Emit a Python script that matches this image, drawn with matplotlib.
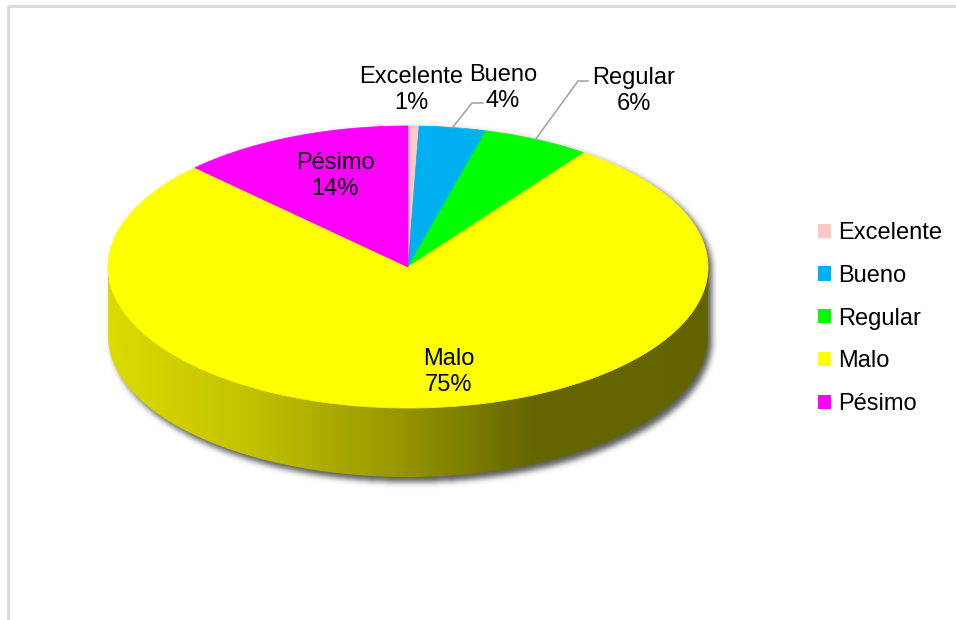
import numpy as np
import matplotlib
matplotlib.use("Agg")
import matplotlib.pyplot as plt
from matplotlib.patches import Polygon, Patch, Rectangle

# Datos
categorias = ["Excelente", "Bueno", "Regular", "Malo", "Pésimo"]
porcentajes = [0.7, 4.2, 6.3, 75.0, 13.8]
colores = ["#ffc7c7", "#00b0f0", "#00ff00", "#ffff00", "#ff00ff"]

# Geometria del pastel 3D (en pixeles)
cx, cy, rx, ry, prof = 408, 267, 300, 141, 69
perspectiva = 4.5  # grados de compresion angular hacia el fondo

# Posiciones de las etiquetas (centro del bloque de texto)
pos_etiquetas = [(411, 90), (503, 88), (634, 91), (449, 372), (335, 176)]
# codos de las lineas guia (solo Bueno y Regular)
codos = {1: [(472, 103), (483, 103)], 2: [(578, 81), (588, 81)]}

plt.rcParams["font.family"] = ["Liberation Sans", "DejaVu Sans"]
FS = 17


def punto(t, dy=0.0):
    # t en grados, en sentido horario desde arriba (con algo de perspectiva)
    t = t - perspectiva * np.sin(np.radians(2 * t))
    r = np.radians(t)
    return cx + rx * np.sin(r), cy - ry * np.cos(r) + dy


fig = plt.figure(figsize=(9.56, 6.2), dpi=100)
ax = fig.add_axes([0, 0, 1, 1])
ax.set_xlim(0, 956)
ax.set_ylim(620, 0)
ax.axis("off")

# marco del grafico
ax.add_patch(Rectangle((8, 6), 1000, 1000, fill=False, edgecolor="#d9d9d9", lw=2, zorder=0))

# ---- sombra difusa ----
yy, xx = np.mgrid[0:620, 0:956] + 0.5
u = (xx - (cx + 4)) / rx
dentro = np.abs(u) <= 1
s = np.sqrt(np.clip(1 - u ** 2, 0, None))
mascara = dentro & (yy >= cy + 3 - ry * s) & (yy <= cy + 5 + prof + ry * s)
k = np.exp(-0.5 * (np.arange(-9, 10) / 3.0) ** 2)
k /= k.sum()
sombra = mascara.astype(float)
sombra = np.apply_along_axis(lambda m: np.convolve(m, k, mode="same"), 0, sombra)
sombra = np.apply_along_axis(lambda m: np.convolve(m, k, mode="same"), 1, sombra)
rgba = np.zeros((620, 956, 4))
rgba[..., :3] = 0.25
rgba[..., 3] = sombra * 0.85
ax.imshow(rgba, extent=(0, 956, 620, 0), zorder=1, interpolation="bilinear")

# ---- angulos de cada porcion ----
total = sum(porcentajes)
bordes = np.concatenate([[0], np.cumsum(porcentajes)]) / total * 360

# ---- cara lateral con degradado ----
xs_grad = np.linspace(0, 956, 957)
sombreado = np.interp(xs_grad, [108, 250, 400, 530, 708], [0.86, 0.76, 0.59, 0.40, 0.39])
for i, c in enumerate(colores):
    a0, a1 = max(bordes[i], 90), min(bordes[i + 1], 270)
    if a1 <= a0:
        continue
    ts = np.linspace(a0, a1, 200)
    arriba = [punto(t) for t in ts]
    abajo = [punto(t, prof) for t in ts[::-1]]
    poly = Polygon(arriba + abajo, closed=True, facecolor="none", edgecolor="none")
    ax.add_patch(poly)
    base = np.array(matplotlib.colors.to_rgb(c))
    img = (sombreado[None, :, None] * base[None, None, :])
    im = ax.imshow(img, extent=(0, 956, 620, 0), zorder=2, interpolation="bilinear")
    im.set_clip_path(poly)

# ---- cara superior ----
for i, c in enumerate(colores):
    ts = np.linspace(bordes[i], bordes[i + 1], max(3, int(bordes[i + 1] - bordes[i]) * 2))
    pts = [(cx, cy)] + [punto(t) for t in ts]
    ax.add_patch(Polygon(pts, closed=True, facecolor=c, edgecolor=c, lw=0.5, zorder=3))

# ---- etiquetas ----
for i, (nombre, v) in enumerate(zip(categorias, porcentajes)):
    x, y = pos_etiquetas[i]
    ax.text(x, y, f"{nombre}\n{round(v / total * 100)}%", ha="center", va="center",
            fontsize=FS, linespacing=1.28, zorder=5)
    if i in codos:
        medio = (bordes[i] + bordes[i + 1]) / 2
        x0, y0 = punto(medio)
        lx = [x0] + [p[0] for p in codos[i]]
        ly = [y0] + [p[1] for p in codos[i]]
        ax.plot(lx, ly, color="#a6a6a6", lw=1.2, zorder=4)

# ---- leyenda ----
handles = [Patch(facecolor=c, edgecolor="none") for c in colores]
ax.legend(handles, categorias, loc="upper left", bbox_to_anchor=(818 / 956, 1 - 222 / 620),
          frameon=False, fontsize=FS, borderpad=0, handlelength=0.55, handleheight=0.55,
          handletextpad=0.3, labelspacing=0.88, borderaxespad=0)

plt.savefig("out.png", dpi=100)
